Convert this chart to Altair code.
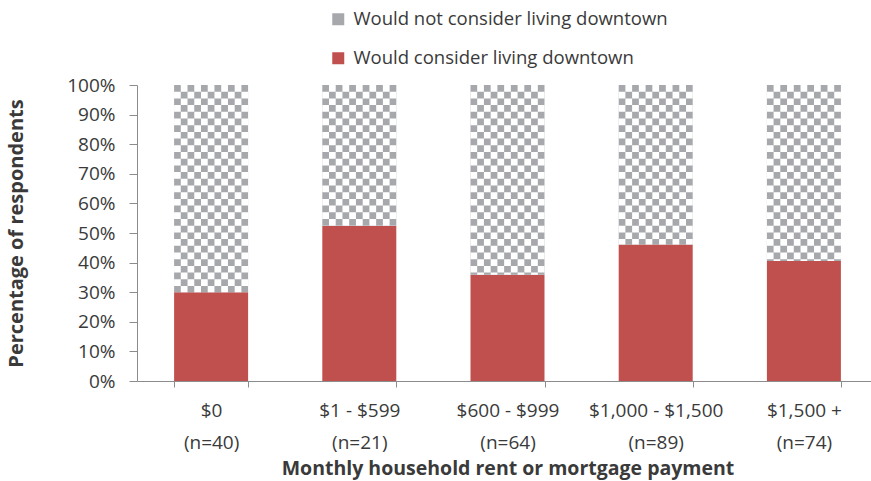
import altair as alt
import pandas as pd

categories = ["$0", "$1 - $599", "$600 - $999", "$1,000 - $1,500", "$1,500 +"]
n_labels = ["(n=40)", "(n=21)", "(n=64)", "(n=89)", "(n=74)"]
consider_pct = [30.0, 52.4, 35.9, 46.1, 40.5]
series = ["Would not consider living downtown", "Would consider living downtown"]
y_ticks = [0, 10, 20, 30, 40, 50, 60, 70, 80, 90, 100]

FONT = "Open Sans"
TXT = "#3A3A3A"
RED = "#C0504D"
GRAY = "#A6A8AC"
AX = "#8C8C8C"

cat_labels = [f"{c}|{n}" for c, n in zip(categories, n_labels)]

rows = []
for lab, v in zip(cat_labels, consider_pct):
    rows.append({"cat": lab, "series": series[1], "lo": 0.0, "hi": v})
    rows.append({"cat": lab, "series": series[0], "lo": v, "hi": 100.0})
bars = pd.DataFrame(rows)

# checker texture columns for the "would not" segments
NCOL = 11
tex = []
for lab, v in zip(cat_labels, consider_pct):
    for k in range(NCOL):
        tex.append({"cat": lab, "k": k, "lo": v, "hi": 100.0, "par": k % 2})
tex = pd.DataFrame(tex)

xscale = alt.Scale(domain=cat_labels, range=[0, 741], paddingInner=0.5, paddingOuter=0.25)
yscale = alt.Scale(domain=[0, 100])

x_axis = alt.Axis(title="Monthly household rent or mortgage payment",
                  labelExpr="split(datum.label, '|')", labelAngle=0,
                  labelLineHeight=32, labelPadding=14, tickBand="extent",
                  tickSize=6, titlePadding=7, labelFontSize=19, titleFontSize=19.5)
y_axis = alt.Axis(title="Percentage of respondents", values=y_ticks,
                  labelExpr="datum.value + '%'", tickSize=8, labelPadding=14,
                  labelOverlap=False, titlePadding=40, labelFontSize=19, titleFontSize=20)

base_bars = alt.Chart(bars).mark_bar(size=74).encode(
    x=alt.X("cat:N", scale=xscale, sort=cat_labels, axis=x_axis),
    y=alt.Y("hi:Q", scale=yscale, axis=y_axis),
    y2="lo:Q",
    color=alt.Color("series:N",
                    scale=alt.Scale(domain=series, range=[GRAY, RED]),
                    legend=alt.Legend(title=None, orient="none", legendX=192, legendY=-75,
                                      symbolType="square", symbolSize=144,
                                      symbolStrokeWidth=0, labelFontSize=18.5,
                                      labelOffset=6, rowPadding=20, padding=0,
                                      labelLimit=400, direction="vertical")),
)

def tex_layer(par, offset):
    return alt.Chart(tex).transform_filter(f"datum.par == {par}").mark_rule(
        color="white", strokeWidth=74 / NCOL, strokeDash=[6.7, 6.7],
        strokeDashOffset=offset, strokeCap="butt"
    ).encode(
        x=alt.X("cat:N", scale=xscale, sort=cat_labels, axis=x_axis),
        xOffset=alt.XOffset("k:O", scale=alt.Scale(paddingInner=0, paddingOuter=0)),
        y=alt.Y("hi:Q", scale=yscale, axis=y_axis),
        y2="lo:Q",
    )

chart = alt.layer(base_bars, tex_layer(0, 6.7), tex_layer(1, 0)).properties(
    width=734, height=296,
    autosize=alt.AutoSizeParams(type="none"),
    padding={"left": 137, "top": 85, "right": 0, "bottom": 100},
).configure(font=FONT).configure_view(stroke=None).configure_axis(
    labelFont=FONT, titleFont=FONT,
    labelColor=TXT, titleColor=TXT, titleFontWeight="bold",
    domainColor=AX, tickColor=AX, grid=False,
).configure_legend(labelFont=FONT, labelColor=TXT)

chart.save("out.html", embed_options={"renderer": "svg", "actions": False})
